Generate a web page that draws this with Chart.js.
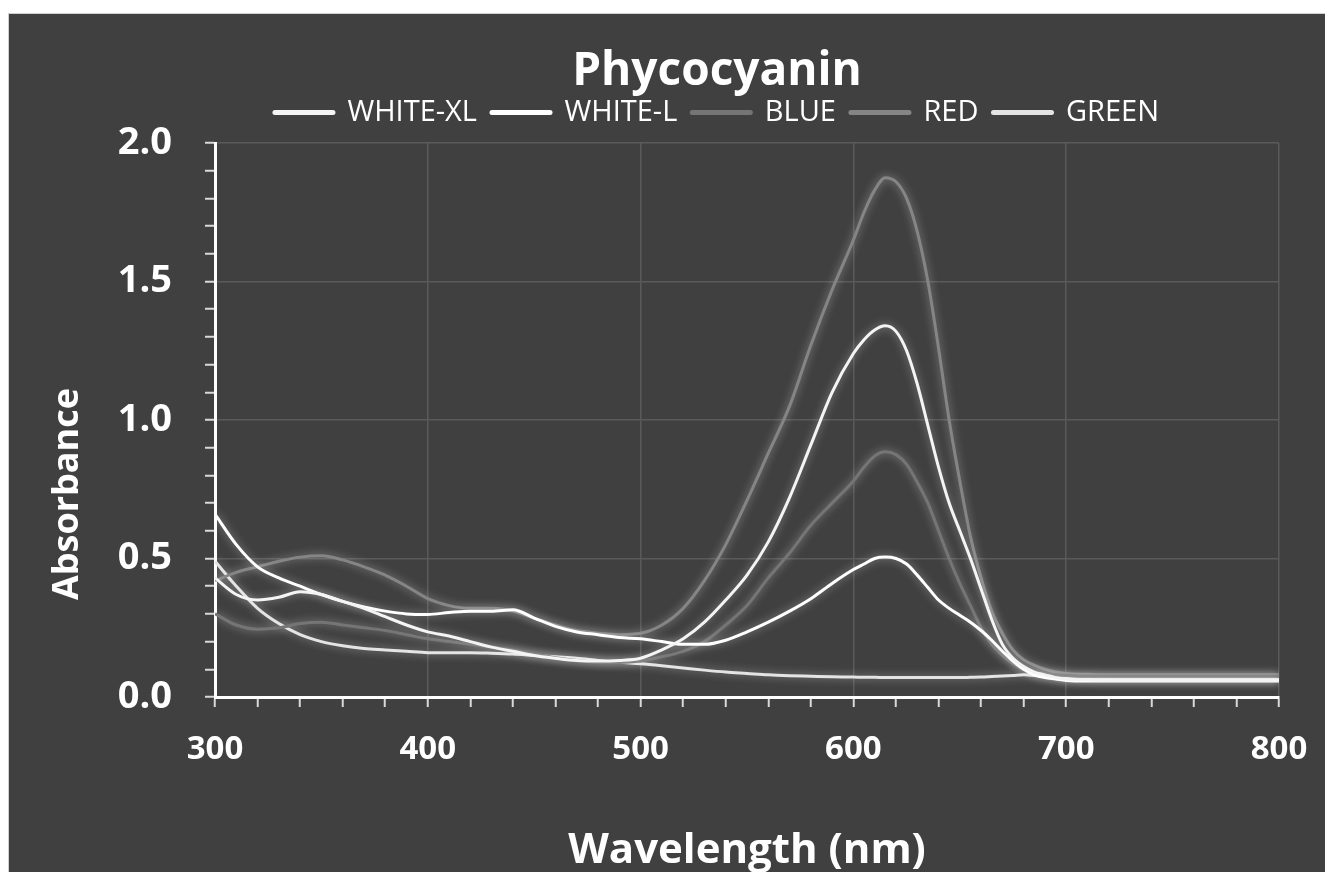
<!DOCTYPE html>
<html>
<head>
<meta charset="utf-8">
<script src="https://cdn.jsdelivr.net/npm/chart.js@4.4.1/dist/chart.umd.min.js"></script>
<style>
  body { margin: 0; background: #ffffff; overflow: hidden; }
  #frame {
    position: absolute; left: 8px; top: 13px;
    width: 1330px; height: 870px;
    border: 1px solid #cfcfcf; background: #404040;
  }
  #chart { position: absolute; left: 0; top: 0; }
</style>
</head>
<body>
<div id="frame"><canvas id="chart" width="1316" height="858"></canvas></div>
<script>
const wavelengths = [
  300, 310, 320, 330, 340, 350, 360, 370, 380, 390,
  400, 410, 420, 430, 440, 450, 460, 470, 480, 490,
  500, 510, 520, 530, 540, 550, 560, 570, 580, 590,
  600, 605, 610, 615, 620, 625, 630, 635, 640, 645,
  650, 655, 660, 665, 670, 675, 680, 685, 690, 695,
  700, 710, 720, 730, 740, 750, 760, 770, 780, 790, 800,
];

const whiteXL = [
  0.43, 0.37, 0.35, 0.36, 0.38, 0.37, 0.345, 0.32, 0.29, 0.26,
  0.235, 0.22, 0.2, 0.18, 0.165, 0.15, 0.14, 0.132, 0.13, 0.132,
  0.14, 0.17, 0.21, 0.27, 0.35, 0.44, 0.56, 0.72, 0.91, 1.1,
  1.24, 1.29, 1.325, 1.34, 1.32, 1.25, 1.13, 0.98, 0.83, 0.7,
  0.6, 0.5, 0.39, 0.28, 0.19, 0.14, 0.11, 0.09, 0.08, 0.07,
  0.065, 0.062, 0.06, 0.06, 0.06, 0.06, 0.06, 0.06, 0.06, 0.06, 0.06,
];

const whiteL = [
  0.66, 0.55, 0.47, 0.43, 0.4, 0.37, 0.345, 0.325, 0.31, 0.3,
  0.298, 0.305, 0.31, 0.31, 0.315, 0.285, 0.255, 0.235, 0.225, 0.215,
  0.21, 0.2, 0.19, 0.19, 0.205, 0.235, 0.27, 0.31, 0.355, 0.41,
  0.46, 0.48, 0.5, 0.505, 0.5, 0.48, 0.44, 0.395, 0.35, 0.32,
  0.295, 0.27, 0.24, 0.205, 0.165, 0.13, 0.1, 0.08, 0.07, 0.065,
  0.06, 0.058, 0.058, 0.058, 0.058, 0.058, 0.058, 0.058, 0.058, 0.058, 0.058,
];

const blue = [
  0.3, 0.26, 0.245, 0.25, 0.265, 0.27, 0.26, 0.25, 0.24, 0.225,
  0.21, 0.2, 0.19, 0.18, 0.17, 0.155, 0.142, 0.132, 0.125, 0.125,
  0.13, 0.145, 0.165, 0.2, 0.26, 0.33, 0.43, 0.52, 0.62, 0.7,
  0.78, 0.83, 0.87, 0.885, 0.875, 0.84, 0.775, 0.7, 0.6, 0.5,
  0.41, 0.33, 0.25, 0.19, 0.15, 0.12, 0.1, 0.09, 0.085, 0.08,
  0.078, 0.075, 0.075, 0.075, 0.075, 0.075, 0.075, 0.075, 0.075, 0.075, 0.075,
];

const red = [
  0.42, 0.45, 0.47, 0.49, 0.505, 0.51, 0.495, 0.47, 0.44, 0.4,
  0.355, 0.33, 0.32, 0.32, 0.31, 0.285, 0.26, 0.24, 0.23, 0.225,
  0.23, 0.26, 0.32, 0.42, 0.55, 0.71, 0.88, 1.05, 1.27, 1.47,
  1.65, 1.75, 1.83, 1.875, 1.86, 1.8, 1.68, 1.5, 1.26, 1.0,
  0.78, 0.58, 0.43, 0.31, 0.23, 0.17, 0.135, 0.115, 0.1, 0.09,
  0.085, 0.082, 0.08, 0.08, 0.08, 0.08, 0.08, 0.08, 0.08, 0.08, 0.08,
];

const green = [
  0.49, 0.4, 0.32, 0.265, 0.225, 0.2, 0.185, 0.175, 0.17, 0.165,
  0.16, 0.16, 0.16, 0.158, 0.155, 0.15, 0.145, 0.14, 0.132, 0.125,
  0.12, 0.113, 0.105, 0.097, 0.09, 0.085, 0.08, 0.077, 0.075, 0.073,
  0.072, 0.071, 0.071, 0.07, 0.07, 0.07, 0.07, 0.07, 0.07, 0.07,
  0.07, 0.071, 0.072, 0.074, 0.076, 0.078, 0.08, 0.078, 0.074, 0.07,
  0.067, 0.065, 0.065, 0.065, 0.065, 0.065, 0.065, 0.065, 0.065, 0.065, 0.065,
];

const FONT = "'Open Sans', 'Noto Sans', sans-serif";

function toPoints(values) {
  return wavelengths.map((w, i) => ({ x: w, y: values[i] }));
}

function makeSeries(label, values, color) {
  return {
    label: label,
    data: toPoints(values),
    borderColor: color,
    backgroundColor: color,
    borderWidth: 3,
    pointRadius: 0,
    cubicInterpolationMode: "monotone",
    fill: false,
  };
}

// soft glow around the curves, like the scanned original
const glowPlugin = {
  id: "glow",
  beforeDatasetsDraw(chart) {
    const ctx = chart.ctx;
    ctx.save();
    ctx.shadowColor = "rgba(255,255,255,0.45)";
    ctx.shadowBlur = 8;
  },
  afterDatasetsDraw(chart) {
    chart.ctx.restore();
  },
};

// title + legend are centred a bit right of the canvas middle
const headerPlugin = {
  id: "header",
  afterLayout(chart) {
    const dx = 50;
    chart.titleBlock.left += dx;
    chart.titleBlock.right += dx;
    chart.titleBlock.top += 6;
    chart.titleBlock.bottom += 6;
    chart.legend.left += dx;
    chart.legend.right += dx;
    chart.legend.top -= 6;
    chart.legend.bottom -= 6;
  },
};

const yTitlePlugin = {
  id: "yTitle",
  afterDraw(chart) {
    const ctx = chart.ctx;
    ctx.save();
    ctx.translate(59, 480);
    ctx.rotate(-Math.PI / 2);
    ctx.textAlign = "center";
    ctx.textBaseline = "middle";
    ctx.fillStyle = "#ffffff";
    ctx.font = `bold 36px ${FONT}`;
    ctx.fillText("Absorbance", 0, 0);
    ctx.restore();
  },
};

const chart = new Chart(document.getElementById("chart"), {
  type: "line",
  data: {
    datasets: [
      makeSeries("WHITE-XL", whiteXL, "#f4f4f4"),
      makeSeries("WHITE-L", whiteL, "#ffffff"),
      makeSeries("BLUE", blue, "#757575"),
      makeSeries("RED", red, "#858585"),
      makeSeries("GREEN", green, "#e4e4e4"),
    ],
  },
  plugins: [glowPlugin, headerPlugin, yTitlePlugin],
  options: {
    responsive: false,
    animation: false,
    devicePixelRatio: 1,
    layout: { padding: 0 },
    plugins: {
      title: {
        display: true,
        text: "Phycocyanin",
        color: "#ffffff",
        font: { family: FONT, size: 46, weight: "bold", lineHeight: 1.0 },
        padding: { top: 29, bottom: 0 },
      },
      legend: {
        display: true,
        position: "top",
        labels: {
          color: "#ffffff",
          font: { family: FONT, size: 29 },
          usePointStyle: true,
          pointStyle: "line",
          pointStyleWidth: 58,
          padding: 15,
          generateLabels(c) {
            return Chart.defaults.plugins.legend.labels
              .generateLabels(c)
              .map((item) => ({ ...item, lineWidth: 5, lineCap: "round" }));
          },
        },
      },
      tooltip: { enabled: false },
    },
    scales: {
      x: {
        type: "linear",
        min: 300,
        max: 800,
        afterFit(s) {
          s.height = 175;
          s.paddingRight = 46;
        },
        border: { display: true, color: "#ffffff", width: 3 },
        grid: {
          color: (c) => (c.tick && c.tick.value % 100 === 0 ? "#5a5a5a" : "rgba(0,0,0,0)"),
          lineWidth: 1.5,
          tickColor: "#d8d8d8",
          tickWidth: 2,
          tickLength: 10,
        },
        ticks: {
          stepSize: 20,
          autoSkip: false,
          maxRotation: 0,
          color: "#ffffff",
          padding: 23,
          font: { family: FONT, size: 33, weight: "bold" },
          callback: (v) => (v % 100 === 0 ? v : ""),
        },
        title: {
          display: true,
          text: "Wavelength (nm)",
          color: "#ffffff",
          font: { family: FONT, size: 42, weight: "bold", lineHeight: 1.0 },
          padding: { top: 0, bottom: 0 },
        },
      },
      y: {
        min: 0,
        max: 2,
        afterFit(s) {
          s.width = 206;
        },
        border: { display: true, color: "#ffffff", width: 3 },
        grid: {
          color: (c) =>
            c.tick && Math.round(c.tick.value * 10) % 5 === 0 ? "#5a5a5a" : "rgba(0,0,0,0)",
          lineWidth: 1.5,
          tickColor: "#d8d8d8",
          tickWidth: 2,
          tickLength: 10,
        },
        ticks: {
          stepSize: 0.1,
          autoSkip: false,
          color: "#ffffff",
          padding: 33,
          font: { family: FONT, size: 38, weight: "bold" },
          callback: (v) => (Math.round(v * 10) % 5 === 0 ? v.toFixed(1) : ""),
        },
      },
    },
  },
});
</script>
</body>
</html>
